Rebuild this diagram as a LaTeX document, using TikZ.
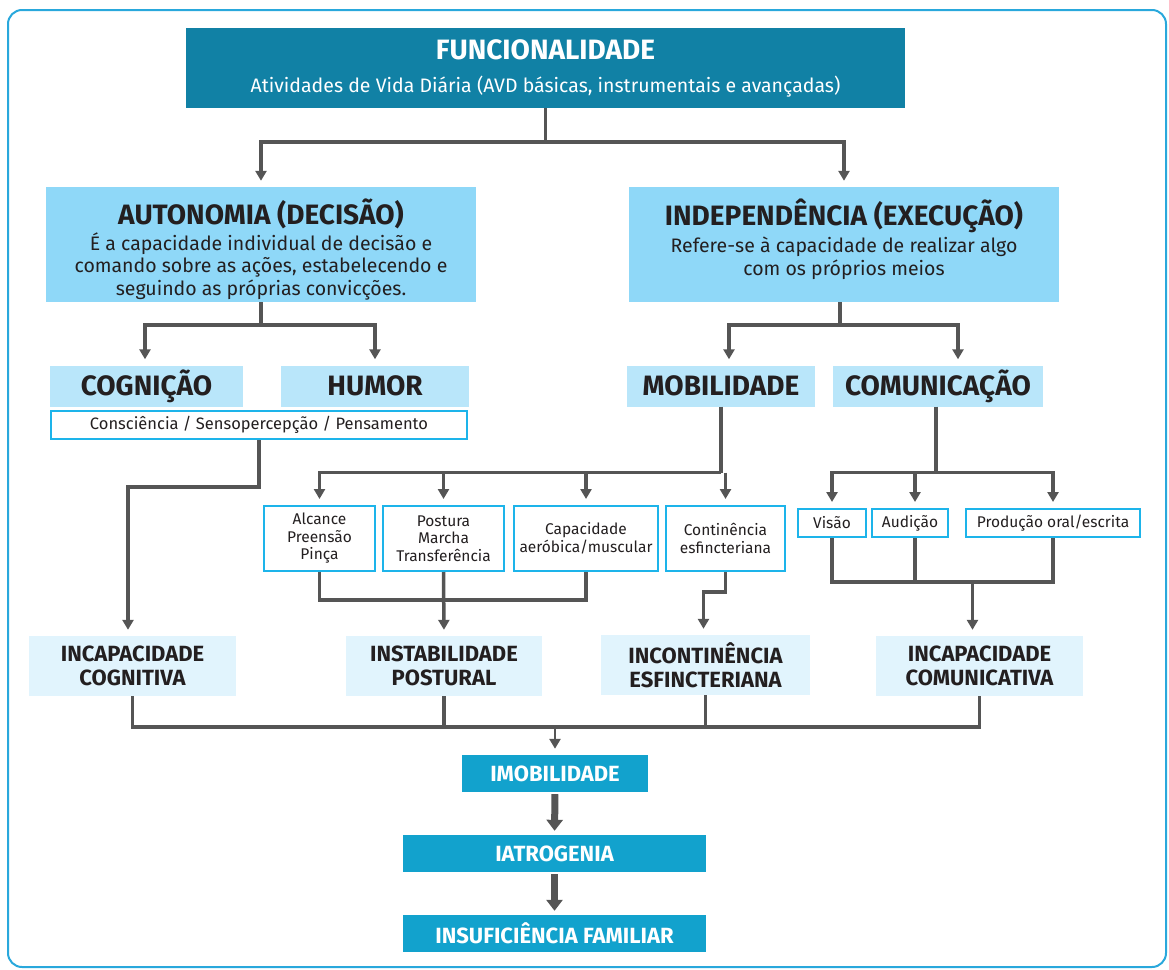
\documentclass[tikz,border=0pt]{standalone}
\usepackage{fontspec}
\setmainfont{Fira Sans}
\usepackage{tikz}
\usetikzlibrary{arrows.meta,positioning,calc}
\definecolor{avdteal}{RGB}{17,129,165}
\definecolor{avdmain}{RGB}{143,216,248}
\definecolor{avdsub}{RGB}{185,230,250}
\definecolor{avdpale}{RGB}{225,244,253}
\definecolor{avdmid}{RGB}{18,162,205}
\definecolor{avdcyan}{RGB}{29,180,234}
\definecolor{avdframe}{RGB}{41,168,220}
\definecolor{avdgray}{RGB}{85,85,85}
\definecolor{avdink}{RGB}{35,31,32}
\tikzset{
  headbox/.style={fill=avdteal, text=white, align=center, inner sep=0pt,
    font=\fontsize{19.5}{22}\selectfont},
  mainbox/.style={fill=avdmain, minimum width=430pt, minimum height=115pt, inner sep=0pt},
  maintext/.style={text=avdink, align=center, inner sep=0pt, anchor=north,
    font=\fontsize{19.5}{22.5}\selectfont},
  areabox/.style={fill=avdsub, text=avdink, align=center, inner sep=0pt,
    font=\fontsize{28}{30}\selectfont\bfseries, minimum height=41pt},
  listbox/.style={draw=avdcyan, line width=2pt, fill=white, text=avdink, align=center,
    inner sep=0pt, font=\fontsize{15.5}{17.5}\selectfont},
  resultbox/.style={fill=avdpale, text=avdink, align=center, inner sep=0pt,
    font=\fontsize{22}{24}\selectfont\bfseries, minimum width=207pt, minimum height=60pt},
  chainbox/.style={fill=avdmid, text=white, align=center, inner sep=0pt,
    font=\fontsize{22}{24}\selectfont\bfseries, minimum height=37pt},
  link/.style={draw=avdgray, line width=3.5pt},
  linkarrow/.style={link, -{Triangle[length=10pt, width=11pt]}, shorten >=6pt},
  bigarrow/.style={draw=avdgray, line width=7pt, -{Triangle[length=11pt, width=16pt]}, shorten >=4pt, shorten <=2pt}
}
\begin{document}
\begin{tikzpicture}[x=1pt, y=-1pt]
  \useasboundingbox (0,0) rectangle (1169,969);
  \draw[avdframe, line width=2pt, rounded corners=14pt] (8,10) rectangle (1166,967);

  \node[headbox, minimum width=719pt, minimum height=80pt] (func) at (545.5,68)
    {{\fontsize{28}{30}\selectfont\bfseries FUNCIONALIDADE}\\[11pt]
     Atividades de Vida Diária (AVD básicas, instrumentais e avançadas)};
  \node[mainbox] (auto) at (261,244.5) {};
  \node[maintext] (autotext) at (261,199)
    {{\fontsize{28}{30}\selectfont\bfseries AUTONOMIA (DECISÃO)}\\[3pt]
     É a capacidade individual de decisão e\\
     comando sobre as ações, estabelecendo e\\
     seguindo as próprias convicções.};
  \node[mainbox] (indep) at (844,244.5) {};
  \node[maintext] (indeptext) at (844,199)
    {{\fontsize{28}{30}\selectfont\bfseries INDEPENDÊNCIA (EXECUÇÃO)}\\[3pt]
     Refere-se à capacidade de realizar algo\\
     com os próprios meios};

  \node[areabox, minimum width=193pt] (cogn) at (146.5,386) {COGNIÇÃO};
  \node[areabox, minimum width=188pt] (humor) at (375,386) {HUMOR};
  \node[listbox, minimum width=416pt, minimum height=28pt, font=\fontsize{16.5}{18}\selectfont]
    (consc) at (259,425) {Consciência / Sensopercepção / Pensamento};
  \node[areabox, minimum width=188pt] (mobil) at (721,386) {MOBILIDADE};
  \node[areabox, minimum width=210pt] (comun) at (938,386) {COMUNICAÇÃO};

  \node[listbox, minimum width=111pt, minimum height=65pt] (alc) at (319.5,538.5)
    {Alcance\\Preensão\\Pinça};
  \node[listbox, minimum width=121pt, minimum height=65pt] (post) at (443.5,538.5)
    {Postura\\Marcha\\Transferência};
  \node[listbox, minimum width=144pt, minimum height=65pt] (capac) at (586,538.5)
    {Capacidade\\aeróbica/muscular};
  \node[listbox, minimum width=119pt, minimum height=65pt] (conti) at (725.5,538.5)
    {Continência\\esfincteriana};
  \node[listbox, minimum width=68pt, minimum height=28pt] (visao) at (832,523) {Visão};
  \node[listbox, minimum width=76pt, minimum height=28pt] (audic) at (910,523) {Audição};
  \node[listbox, minimum width=174pt, minimum height=28pt] (produ) at (1053,523)
    {Produção oral/escrita};

  \node[resultbox] (inccog) at (132.5,666) {INCAPACIDADE\\COGNITIVA};
  \node[resultbox, minimum width=196pt] (instab) at (444,666) {INSTABILIDADE\\POSTURAL};
  \node[resultbox, minimum width=209pt] (inconti) at (705.5,665) {INCONTINÊNCIA\\ESFINCTERIANA};
  \node[resultbox] (inccom) at (979.5,666) {INCAPACIDADE\\COMUNICATIVA};

  \node[chainbox, minimum width=186pt] (imob) at (555,773.5) {IMOBILIDADE};
  \node[chainbox, minimum width=303pt] (iatro) at (554.5,853.5) {IATROGENIA};
  \node[chainbox, minimum width=303pt] (insuf) at (554.5,933.5) {INSUFICIÊNCIA FAMILIAR};

  \draw[link] (func.south) -- ++(0,34) coordinate (fsplit);
  \draw[linkarrow] (fsplit) -| (auto.north);
  \draw[linkarrow] (fsplit) -| (indep.north);

  \draw[link] (auto.south) -- ++(0,23) coordinate (asplit);
  \draw[linkarrow] (asplit) -| ([xshift=-1.5pt]cogn.north);
  \draw[linkarrow] (asplit) -| (humor.north);

  \draw[link] ([xshift=-4pt]indep.south) -- ++(0,23) coordinate (isplit);
  \draw[linkarrow] (isplit) -| ([xshift=8pt]mobil.north);
  \draw[linkarrow] (isplit) -| ([xshift=20pt]comun.north);

  \draw[linkarrow] (consc.south) -- ++(0,47) -| ([xshift=-4.5pt]inccog.north);

  \draw[link] (mobil.south) -- ++(0,66) coordinate (msplit);
  \draw[linkarrow] (msplit) -| (alc.north);
  \foreach \b in {post,capac,conti}
    \draw[linkarrow] (msplit -| \b.north) -- (\b.north);

  \draw[link] (alc.south) -- ++(0,28) -| (capac.south);
  \draw[linkarrow] (post.south) -- (instab.north);
  \draw[linkarrow] (conti.south) -- ++(0,20) -| ([xshift=-2pt]inconti.north);

  \draw[link] ([xshift=-2pt]comun.south) -- ++(0,66) coordinate (csplit);
  \draw[linkarrow] (csplit) -| (visao.north);
  \draw[linkarrow] (csplit) -| (produ.north);
  \draw[linkarrow] ([xshift=5pt]csplit -| audic.north) -- ([xshift=5pt]audic.north);

  \draw[link] (visao.south) -- ++(0,44) coordinate (vbar) -| (produ.south);
  \draw[link] ([xshift=5pt]audic.south) -- ([xshift=5pt]audic.south |- vbar);
  \draw[linkarrow] ([xshift=-7pt]vbar -| inccom.north) -- ([xshift=-7pt]inccom.north);

  \draw[link] (inccog.south) -- ++(0,31) coordinate (rbar) -| (inccom.south);
  \draw[link] (instab.south) -- (instab.south |- rbar);
  \draw[link] (inconti.south) -- (inconti.south |- rbar);
  \draw[linkarrow, line width=2.5pt] (rbar -| imob.north) -- (imob.north);

  \draw[bigarrow] (imob.south) -- (iatro.north);
  \draw[bigarrow] (iatro.south) -- (insuf.north);
\end{tikzpicture}
\end{document}
